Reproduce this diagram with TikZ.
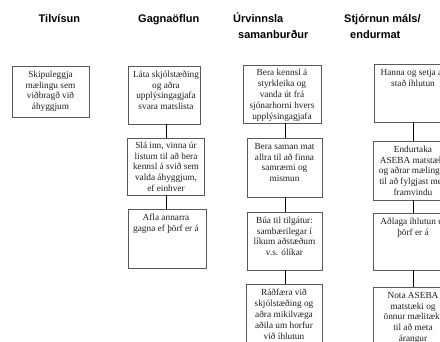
\documentclass[tikz,border=0pt]{standalone}
\usepackage{fontspec}
\setmainfont{Liberation Serif}
\newfontfamily\headsans{Liberation Sans}
\definecolor{boxgray}{gray}{0.35}
\definecolor{txtgray}{gray}{0.12}
\tikzset{
  box/.style={draw=boxgray, line width=0.8pt, rectangle, inner sep=0pt},
  txt/.style={font=\fontsize{9.3}{10.8}\selectfont, text=txtgray, align=center, anchor=north, inner sep=0pt},
  conn/.style={draw=black, line width=0.9pt},
  head/.style={font=\headsans\bfseries\fontsize{11}{16}\selectfont, align=left, anchor=north west, inner sep=0pt}
}
\newcommand{\fl}{\rule{0pt}{7pt}}
\newcommand{\hl}{\rule{0pt}{10pt}}
\begin{document}
\begin{tikzpicture}[x=1pt,y=1pt]
\useasboundingbox (0,0) rectangle (440,-341);
\clip (0,0) rectangle (440,-341);
% headers
\node[head] (h1) at (38.5,-12) {\hl Tilvísun};
\node[head] (h2) at (138,-12) {\hl Gagnaöflun};
\node[head] (h3) at (233,-12) {\hl Úrvinnsla\\\hspace*{5pt}samanburður};
\node[head] (h4) at (344,-12) {\hl Stjórnun máls/\\\hspace*{6pt}endurmat};
% column x coordinates
\coordinate (c2) at (166,0);
\coordinate (c3) at (285,0);
\coordinate (c4) at (413,0);
% column 1
\node[box, minimum width=77, minimum height=51] (b1) at (50.5,-91.5) {};
\node[txt] (t1) at ([yshift=-4.5pt]b1.north) {\fl Skipuleggja\\mælingu sem\\viðbragð við\\áhyggjum};
% column 2
\node[box, minimum width=72, minimum height=58] (b2a) at (164,-95) {};
\node[box, minimum width=77, minimum height=57] (b2b) at (165.5,-166.5) {};
\node[box, minimum width=78, minimum height=59] (b2c) at (167,-238.5) {};
\node[txt] (t2a) at ([yshift=-4.5pt]b2a.north -| c2) {\fl Láta skjólstæðing\\og aðra\\upplýsingagjafa\\svara matslista};
\node[txt] (t2b) at ([yshift=-3.5pt]b2b.north -| c2) {\fl Slá inn, vinna úr\\listum til að bera\\kennsl á svið sem\\valda áhyggjum,\\ef einhver};
\node[txt] (t2c) at ([yshift=-4.5pt]b2c.north -| c2) {\fl Afla annarra\\gagna ef þörf er á};
\draw[conn] (b2a.south -| c2) -- (b2b.north -| c2);
\draw[conn] (b2b.south -| c2) -- (b2c.north -| c2);
% column 3
\node[box, minimum width=78, minimum height=58] (b3a) at (282,-94) {};
\node[box, minimum width=75, minimum height=59] (b3b) at (284.5,-167.5) {};
\node[box, minimum width=75, minimum height=58] (b3c) at (284.5,-241) {};
\node[box, minimum width=76, minimum height=70] (b3d) at (284,-319) {};
\node[txt] (t3a) at ([yshift=-4pt]b3a.north) {\fl Bera kennsl á\\styrkleika og\\vanda út frá\\sjónarhorni hvers\\upplýsingagjafa};
\node[txt] (t3b) at ([yshift=-4.5pt]b3b.north) {\fl Bera saman mat\\allra til að finna\\samræmi og\\mismun};
\node[txt] (t3c) at ([yshift=-4.5pt]b3c.north) {\fl Búa til tilgátur:\\sambærilegar í\\líkum aðstæðum\\v.s. ólíkar};
\node[txt] (t3d) at ([yshift=-5pt]b3d.north) {\fl Ráðfæra við\\skjólstæðing og\\aðra mikilvæga\\aðila um horfur\\við íhlutun};
\draw[conn] (b3a.south -| c3) -- (b3b.north -| c3);
\draw[conn] (b3b.south -| c3) -- (b3c.north -| c3);
\draw[conn] (b3c.south -| c3) -- (b3d.north -| c3);
% column 4
\node[box, minimum width=79, minimum height=58] (b4a) at (413.5,-93) {};
\node[box, minimum width=80, minimum height=59] (b4b) at (413,-170.5) {};
\node[box, minimum width=80, minimum height=57] (b4c) at (413,-241.5) {};
\node[box, minimum width=80, minimum height=70] (b4d) at (413,-322) {};
\node[txt] (t4a) at ([yshift=-4.5pt]b4a.north -| c4) {\fl Hanna og setja af\\stað íhlutun};
\node[txt] (t4b) at ([yshift=-4.5pt]b4b.north -| c4) {\fl Endurtaka\\ASEBA matstæki\\og aðrar mælingar\\til að fylgjast með\\framvindu};
\node[txt] (t4c) at ([yshift=-4.5pt]b4c.north -| c4) {\fl Aðlaga íhlutun ef\\þörf er á};
\node[txt] (t4d) at ([yshift=-4.5pt]b4d.north -| c4) {\fl Nota ASEBA\\matstæki og\\önnur mælitæki\\til að meta\\árangur};
\draw[conn] (b4a.south -| c4) -- (b4b.north -| c4);
\draw[conn] (b4b.south -| c4) -- (b4c.north -| c4);
\draw[conn] (b4c.south -| c4) -- (b4d.north -| c4);
\end{tikzpicture}
\end{document}
